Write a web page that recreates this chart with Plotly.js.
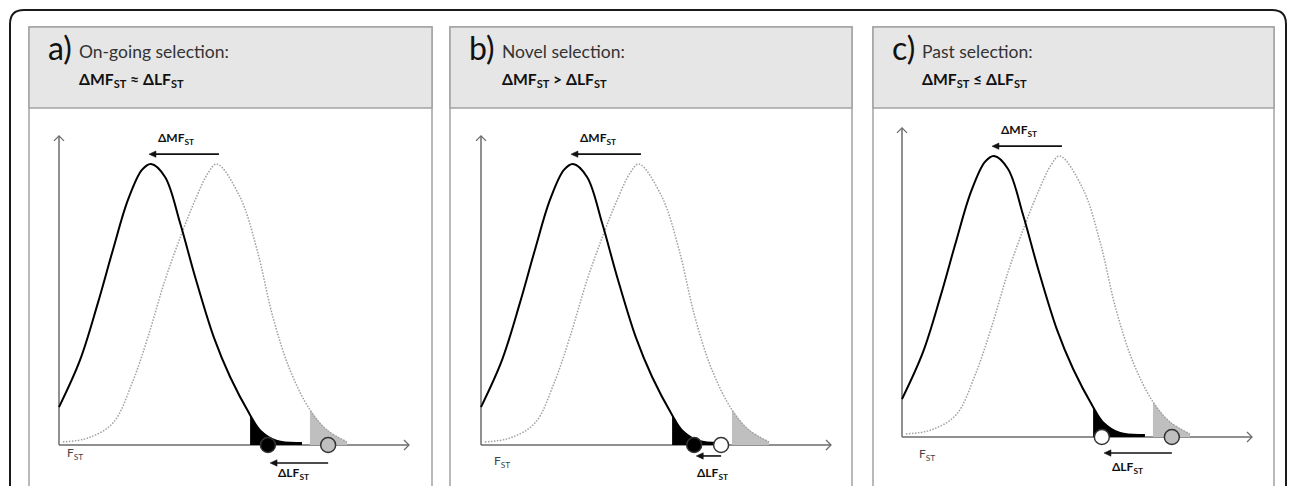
<!DOCTYPE html>
<html><head><meta charset="utf-8">
<script src="https://cdn.plot.ly/plotly-3.0.1.min.js"></script>
<style>html,body{margin:0;padding:0;background:#fff;}#chart{width:1290px;height:486px;}</style>
</head><body><div id="chart"></div>
<script>
// ---- data (x: relative F_ST, y: relative density) ----
const modernX = [0, 0.060, 0.111, 0.154, 0.197, 0.237, 0.263, 0.303, 0.346, 0.389, 0.443, 0.489, 0.546, 0.574, 0.623, 0.694];
const modernY = [0.135, 0.302, 0.505, 0.694, 0.872, 0.979, 1.0, 0.954, 0.790, 0.598, 0.381, 0.242, 0.107, 0.053, 0.014, 0.007];
const ancestralX = [0.011, 0.083, 0.154, 0.209, 0.254, 0.303, 0.351, 0.389, 0.426, 0.451, 0.517, 0.566, 0.611, 0.660, 0.717, 0.766, 0.823];
const ancestralY = [0.011, 0.025, 0.078, 0.221, 0.384, 0.587, 0.754, 0.872, 0.968, 1.0, 0.883, 0.694, 0.456, 0.267, 0.125, 0.053, 0.011];
const modernTailStart = 0.546;
const ancestralTailStart = 0.717;
const panelLetters = ['a)', 'b)', 'c)'];
const panelTitles = ['On-going selection:', 'Novel selection:', 'Past selection:'];
const panelRelations = ['≈', '>', '≤'];
const locusModern = [0.597, 0.609, 0.571];
const locusAncestral = [0.769, 0.686, 0.771];
const locusModernColor = ['#000000', '#000000', '#ffffff'];
const locusAncestralColor = ['#bfbfbf', '#ffffff', '#bfbfbf'];

// ---- layout geometry (pixels) ----
const W = 1290, H = 486;
const px = x => x / W, py = y => 1 - y / H;
const yAxisPx = [59, 481, 902], basePx = [445, 445, 437];
const UX = 350, UY = 281;
const panelLeft = [29, 450, 873], panelRight = [432, 852, 1274];
const PANEL_TOP = 27, HEADER_BOTTOM = 108, PANEL_BOTTOM = 530;
const textStart = [77, 500, 920];
const lfArrowY = [-0.064, -0.039, -0.057];
const lfLabel = [[0.669, -0.100], [0.660, -0.100], [0.643, -0.107]];
const fstLabel = [[0.046, -0.030], [0.060, -0.058], [0.071, -0.064]];
const AXC = '#6b6b6b';

const traces = [];
const layout = {
  width: W, height: H, margin: {l: 0, r: 0, t: 0, b: 0},
  paper_bgcolor: '#ffffff', plot_bgcolor: 'rgba(0,0,0,0)', showlegend: false,
  font: {family: 'Lato, "Open Sans", sans-serif', color: '#222', size: 12},
  shapes: [], annotations: []
};

// outer rounded frame
const r = 14, fl = 10, ft = 10, fr = 1286, fb = 540;
layout.shapes.push({type: 'path', xref: 'paper', yref: 'paper', layer: 'below',
  path: `M ${px(fl)},${py(fb)} L ${px(fl)},${py(ft + r)} Q ${px(fl)},${py(ft)} ${px(fl + r)},${py(ft)} L ${px(fr - r)},${py(ft)} Q ${px(fr)},${py(ft)} ${px(fr)},${py(ft + r)} L ${px(fr)},${py(fb)}`,
  line: {color: '#1a1a1a', width: 2}});

const argmax = a => a.indexOf(Math.max(...a));
const mPeak = modernX[argmax(modernY)], aPeak = ancestralX[argmax(ancestralY)];

// horizontal arrow pointing left (head at xHead) drawn as shapes
function leftArrow(xa, ya, xTail, xHead, y) {
  const hl = 7 / UX, hw = 3.2 / UY;
  layout.shapes.push({type: 'line', xref: xa, yref: ya, x0: xTail, y0: y, x1: xHead + hl * 0.8, y1: y, line: {color: '#111', width: 1.6}});
  layout.shapes.push({type: 'path', xref: xa, yref: ya, path: `M ${xHead},${y} L ${xHead + hl},${y + hw} L ${xHead + hl},${y - hw} Z`,
    fillcolor: '#111', line: {color: '#111', width: 0.5}});
}

for (let i = 0; i < 3; i++) {
  const s = i === 0 ? '' : String(i + 1);
  const xa = 'x' + s, ya = 'y' + s;
  const L = yAxisPx[i] - 25, R = yAxisPx[i] + 375, T = basePx[i] - 335, B = Math.min(basePx[i] + 40, H - 1);
  layout['xaxis' + s] = {domain: [px(L), px(R)], range: [(L - yAxisPx[i]) / UX, (R - yAxisPx[i]) / UX], visible: false, fixedrange: true, anchor: ya};
  layout['yaxis' + s] = {domain: [py(B), py(T)], range: [(basePx[i] - B) / UY, (basePx[i] - T) / UY], visible: false, fixedrange: true, anchor: xa};

  // panel box + header
  layout.shapes.push({type: 'rect', xref: 'paper', yref: 'paper', layer: 'below',
    x0: px(panelLeft[i]), x1: px(panelRight[i]), y0: py(PANEL_BOTTOM), y1: py(PANEL_TOP),
    line: {color: '#a3a3a3', width: 1.5}, fillcolor: 'rgba(0,0,0,0)'});
  layout.shapes.push({type: 'rect', xref: 'paper', yref: 'paper', layer: 'below',
    x0: px(panelLeft[i]), x1: px(panelRight[i]), y0: py(HEADER_BOTTOM), y1: py(PANEL_TOP),
    line: {color: '#a3a3a3', width: 1.5}, fillcolor: '#e6e6e6'});

  // axes with open arrow heads
  const yTip = 1.1, w = 5;
  layout.shapes.push({type: 'line', xref: xa, yref: ya, layer: 'below', x0: 0, y0: 0, x1: 0, y1: yTip, line: {color: AXC, width: 1.5}});
  layout.shapes.push({type: 'line', xref: xa, yref: ya, layer: 'below', x0: 0, y0: 0, x1: 1, y1: 0, line: {color: AXC, width: 1.5}});
  layout.shapes.push({type: 'path', xref: xa, yref: ya, layer: 'below',
    path: `M ${-w / UX},${yTip - w / UY} L 0,${yTip} L ${w / UX},${yTip - w / UY}`, line: {color: AXC, width: 1.3}});
  layout.shapes.push({type: 'path', xref: xa, yref: ya, layer: 'below',
    path: `M ${1 - w / UX},${w / UY} L 1,0 L ${1 - w / UX},${-w / UY}`, line: {color: AXC, width: 1.3}});

  // tail fills
  const mt = modernX.map((x, k) => k).filter(k => modernX[k] >= modernTailStart);
  traces.push({type: 'scatter', mode: 'lines', xaxis: xa, yaxis: ya, cliponaxis: false, hoverinfo: 'skip',
    x: mt.map(k => modernX[k]), y: mt.map(k => modernY[k]), fill: 'tozeroy', fillcolor: '#000000',
    line: {color: '#000000', width: 1, shape: 'spline', smoothing: 1}});
  const at = ancestralX.map((x, k) => k).filter(k => ancestralX[k] >= ancestralTailStart);
  traces.push({type: 'scatter', mode: 'lines', xaxis: xa, yaxis: ya, cliponaxis: false, hoverinfo: 'skip',
    x: at.map(k => ancestralX[k]), y: at.map(k => ancestralY[k]), fill: 'tozeroy', fillcolor: '#bfbfbf',
    line: {color: '#bfbfbf', width: 0.5, shape: 'spline', smoothing: 1}});

  // curves
  traces.push({type: 'scatter', mode: 'lines', xaxis: xa, yaxis: ya, cliponaxis: false, hoverinfo: 'skip',
    x: ancestralX, y: ancestralY, line: {color: '#a0a0a0', width: 1.5, dash: '1.5px,1.5px', shape: 'spline', smoothing: 1}});
  traces.push({type: 'scatter', mode: 'lines', xaxis: xa, yaxis: ya, cliponaxis: false, hoverinfo: 'skip',
    x: modernX, y: modernY, line: {color: '#000000', width: 2, shape: 'spline', smoothing: 1}});

  // loci
  traces.push({type: 'scatter', mode: 'markers', xaxis: xa, yaxis: ya, cliponaxis: false, hoverinfo: 'skip',
    x: [locusAncestral[i], locusModern[i]], y: [0, 0],
    marker: {size: 15, color: [locusAncestralColor[i], locusModernColor[i]], line: {color: '#333333', width: 1.5}}});

  // ΔMF arrow + label
  leftArrow(xa, ya, aPeak + 0.006, mPeak - 0.006, 1.035);
  layout.annotations.push({xref: xa, yref: ya, x: 0.335, y: 1.09, text: '<b>ΔMF<sub>ST</sub></b>', showarrow: false,
    font: {size: 12, color: '#111'}});
  // ΔLF arrow + label
  leftArrow(xa, ya, locusAncestral[i], locusModern[i] + 0.006, lfArrowY[i]);
  layout.annotations.push({xref: xa, yref: ya, x: lfLabel[i][0], y: lfLabel[i][1], text: '<b>ΔLF<sub>ST</sub></b>', showarrow: false,
    font: {size: 12, color: '#111'}});
  // F_ST label
  layout.annotations.push({xref: xa, yref: ya, x: fstLabel[i][0], y: fstLabel[i][1], text: 'F<sub>ST</sub>', showarrow: false,
    font: {size: 12, color: '#444'}});

  // header text
  layout.annotations.push({xref: 'paper', yref: 'paper', x: px(textStart[i] - 3), y: py(47), xanchor: 'right', yanchor: 'middle',
    text: panelLetters[i], showarrow: false, font: {size: 32, color: '#111', family: 'Lato, sans-serif'}});
  layout.annotations.push({xref: 'paper', yref: 'paper', x: px(textStart[i]), y: py(52), xanchor: 'left', yanchor: 'middle',
    text: panelTitles[i], showarrow: false, font: {size: 17.5, color: '#333'}});
  layout.annotations.push({xref: 'paper', yref: 'paper', x: px(textStart[i]), y: py(80), xanchor: 'left', yanchor: 'middle',
    text: `<b>ΔMF<sub>ST</sub> ${panelRelations[i]} ΔLF<sub>ST</sub></b>`, showarrow: false, font: {size: 15.7, color: '#111'}});
}

Plotly.newPlot('chart', traces, layout, {staticPlot: true, displayModeBar: false});
</script>
</body></html>
